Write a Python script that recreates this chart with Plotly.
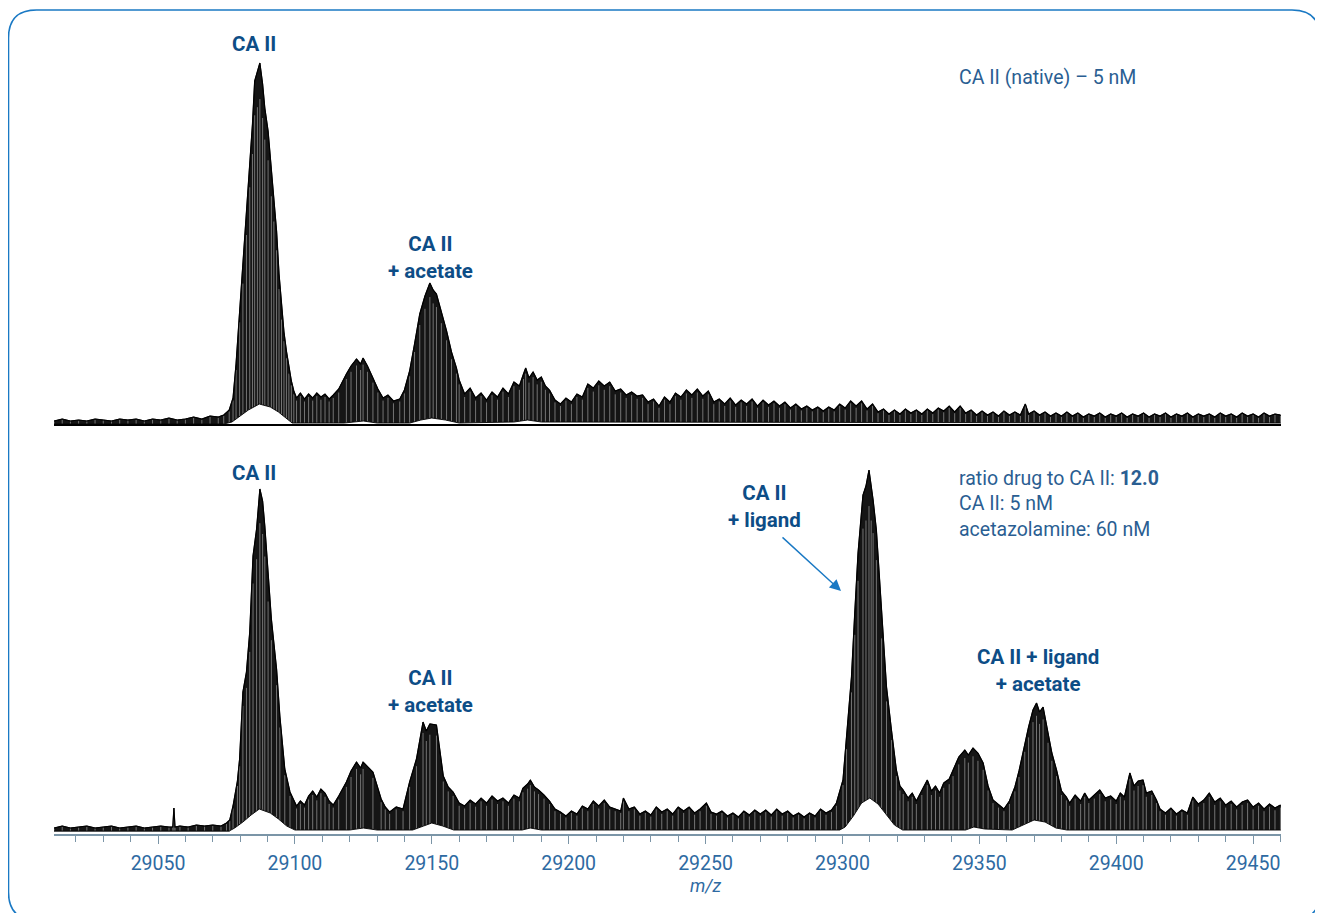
import plotly.graph_objects as go
from plotly.subplots import make_subplots

# ---------------- data: (m/z, intensity) ----------------
# upper envelope of the native CA II spectrum (top panel)
top_upper = [
    (29012, 3), (29015, 5), (29018, 3), (29021, 4), (29024, 3), (29027, 5), (29030, 4), (29033, 3),
    (29036, 5), (29039, 4), (29042, 5), (29045, 3), (29048, 5), (29051, 4), (29054, 6), (29057, 4),
    (29060, 5), (29063, 7), (29066, 5), (29069, 8), (29072, 7), (29074, 9), (29076, 14),
    (29077.4, 26), (29078.5, 60), (29079.8, 113), (29081, 156), (29082.3, 210), (29083.5, 263),
    (29084.5, 300), (29085.3, 343), (29086.3, 352), (29087.2, 361), (29088.2, 340), (29089, 316),
    (29090.2, 293), (29091.4, 253), (29092.3, 225), (29093.3, 193), (29094.2, 150), (29095.1, 116),
    (29096, 92), (29096.9, 73), (29097.8, 56), (29098.7, 43), (29099.6, 33), (29100.6, 26),
    (29102, 31), (29103.5, 25), (29105, 30), (29106.5, 26), (29108, 31), (29109.5, 27), (29111, 30),
    (29112.5, 25), (29114, 29), (29116, 35), (29118.8, 50), (29120.5, 58), (29122.5, 65),
    (29124, 60), (29124.9, 66), (29126.5, 58), (29128.5, 46), (29130.3, 35), (29132.2, 26),
    (29134, 29), (29136, 23), (29138.3, 25), (29140, 34), (29141.9, 53), (29143.7, 80),
    (29145.6, 110), (29147.5, 128), (29149.3, 141), (29150.5, 134), (29151.7, 130), (29153.5, 112),
    (29155.4, 93), (29157.2, 72), (29159, 56), (29160, 44), (29162, 30), (29164, 36), (29166, 26),
    (29168, 31), (29170, 24), (29172, 32), (29174, 27), (29176, 36), (29178, 30), (29180, 42),
    (29182, 38), (29183.5, 50), (29184.3, 56), (29185.5, 46), (29187, 52), (29188.5, 44),
    (29190, 47), (29191.5, 38), (29193, 34), (29195, 24), (29197, 20), (29199, 26), (29201, 22),
    (29203, 30), (29205, 27), (29207, 40), (29209, 36), (29211, 43), (29213, 38), (29215, 42),
    (29217, 33), (29219, 35), (29221, 29), (29223, 32), (29225, 28), (29227, 29), (29229, 22),
    (29231, 25), (29233, 18), (29235, 27), (29237, 22), (29239, 31), (29241, 27), (29243, 34),
    (29245, 29), (29247, 35), (29249, 28), (29251, 33), (29253, 22), (29255, 25), (29257, 20),
    (29259, 26), (29261, 19), (29263, 24), (29265, 20), (29267, 25), (29269, 18), (29271, 24),
    (29273, 19), (29275, 23), (29277, 18), (29279, 22), (29281, 16), (29283, 20), (29285, 15),
    (29287, 18), (29289, 14), (29291, 17), (29293, 13), (29295, 17), (29297, 14), (29299, 20),
    (29301, 16), (29303, 23), (29305, 18), (29307, 23), (29309, 15), (29311, 20), (29313, 12),
    (29315, 15), (29317, 10), (29319, 14), (29321, 10), (29323, 15), (29325, 11), (29327, 14),
    (29329, 10), (29331, 15), (29333, 11), (29335, 16), (29337, 13), (29339, 18), (29341, 12),
    (29343, 18), (29345, 11), (29347, 14), (29349, 9), (29351, 13), (29353, 9), (29355, 12),
    (29357, 8), (29359, 13), (29361, 9), (29363, 12), (29365, 9), (29366.8, 20), (29368, 10),
    (29370, 13), (29372, 9), (29374, 12), (29376, 8), (29378, 11), (29380, 8), (29382, 12),
    (29384, 8), (29386, 11), (29388, 7), (29390, 10), (29392, 8), (29394, 11), (29396, 7),
    (29398, 10), (29400, 8), (29402, 11), (29404, 7), (29406, 10), (29408, 8), (29410, 11),
    (29412, 7), (29414, 10), (29416, 8), (29418, 11), (29420, 7), (29422, 10), (29424, 8),
    (29426, 11), (29428, 7), (29430, 10), (29432, 8), (29434, 10), (29436, 7), (29438, 11),
    (29440, 8), (29442, 10), (29444, 7), (29446, 11), (29448, 8), (29450, 10), (29452, 7),
    (29454, 11), (29456, 8), (29458, 10), (29460, 9),
]
# lower envelope (white gap under the peaks), top panel
top_lower = [
    (29012, 0), (29074, 0), (29077, 2), (29080, 8), (29083, 14), (29087, 20), (29091, 17),
    (29094, 12), (29097, 5), (29099, 1), (29118, 1), (29125, 3), (29130, 1), (29142, 1),
    (29146, 4), (29150, 6), (29155, 4), (29160, 1), (29180, 2), (29185, 4), (29190, 2), (29460, 1),
]

# upper envelope of CA II + acetazolamide spectrum (bottom panel)
bot_upper = [
    (29012, 3), (29015, 5), (29018, 3), (29021, 4), (29024, 5), (29027, 3), (29030, 4), (29033, 5),
    (29036, 3), (29039, 4), (29042, 5), (29045, 3), (29048, 4), (29051, 5), (29054, 4),
    (29055.4, 4), (29055.8, 23), (29056.2, 4), (29058, 5), (29061, 4), (29064, 6), (29067, 5),
    (29070, 6), (29073, 5), (29075, 8), (29076.2, 11), (29077.4, 25), (29079, 50), (29079.8, 72),
    (29081, 139), (29082.3, 159), (29083.5, 199), (29084.7, 275), (29086, 302), (29087.2, 342),
    (29088.2, 330), (29089, 305), (29090.2, 255), (29091.4, 212), (29093.3, 162), (29094.5, 115),
    (29096.3, 62), (29098.2, 39), (29100.6, 25), (29102, 30), (29103.5, 26), (29105, 35),
    (29106.5, 40), (29108, 34), (29109.5, 42), (29111, 38), (29112.5, 30), (29114, 26),
    (29116, 35), (29118.8, 49), (29120.5, 60), (29122.5, 69), (29124, 63), (29124.9, 69),
    (29128.5, 59), (29131.5, 32), (29133, 24), (29134.6, 19), (29137, 24), (29139.5, 22),
    (29141.9, 49), (29144.4, 72), (29146.8, 109), (29148, 100), (29149.3, 107), (29151.7, 106),
    (29154.2, 55), (29156, 44), (29157.8, 39), (29160, 28), (29162, 25), (29164, 31), (29166, 27),
    (29168, 33), (29170, 28), (29172, 35), (29174, 30), (29176, 33), (29178, 28), (29180, 36),
    (29182, 33), (29183.3, 43), (29185, 47), (29186, 51), (29187.5, 44), (29189, 41), (29191, 36),
    (29193, 30), (29195, 22), (29197, 19), (29199, 15), (29201, 20), (29203, 17), (29205, 25),
    (29207, 22), (29209, 30), (29211, 25), (29213, 31), (29215, 24), (29217, 22), (29219, 20),
    (29220, 33), (29222, 22), (29224, 24), (29226, 17), (29228, 20), (29230, 16), (29232, 24),
    (29234, 19), (29236, 22), (29238, 17), (29240, 24), (29242, 20), (29244, 24), (29246, 18),
    (29248, 22), (29250.3, 28), (29252, 19), (29254, 17), (29256, 20), (29258, 15), (29260, 18),
    (29262, 14), (29264, 20), (29266, 16), (29268, 21), (29270, 17), (29272, 21), (29274, 16),
    (29276, 22), (29278, 17), (29280, 20), (29282, 15), (29284, 18), (29286, 14), (29288, 18),
    (29290, 15), (29292, 22), (29294, 18), (29296, 21), (29297.8, 28), (29300.2, 51),
    (29301.5, 91), (29303.3, 154), (29304.5, 218), (29305.7, 278), (29307.5, 336), (29308.6, 345),
    (29309.7, 361), (29310.5, 345), (29311.2, 331), (29312.4, 301), (29314.3, 214), (29316.1, 144),
    (29317.9, 101), (29319.7, 61), (29321, 45), (29322.2, 41), (29324, 33), (29325.5, 38),
    (29327, 30), (29329, 40), (29331, 51), (29332.5, 40), (29334, 45), (29335.5, 38), (29337, 48),
    (29339, 52), (29340.4, 61), (29342.5, 74), (29344.7, 81), (29346, 76), (29347.7, 83),
    (29349.5, 78), (29351.4, 68), (29353.2, 45), (29355, 31), (29357, 26), (29359, 22),
    (29361, 30), (29363, 44), (29364.5, 60), (29366.6, 88), (29368, 104), (29369.6, 121),
    (29370.9, 128), (29372, 119), (29373.3, 124), (29375.1, 98), (29376.5, 78), (29378.2, 61),
    (29380, 40), (29381.8, 34), (29383, 28), (29385, 36), (29387, 30), (29388.5, 38), (29390, 31),
    (29392, 36), (29394, 41), (29396, 33), (29398, 35), (29400, 30), (29401.5, 38), (29403, 34),
    (29405, 58), (29406.5, 45), (29408, 50), (29409.8, 51), (29411, 38), (29413, 40),
    (29414.7, 31), (29416, 22), (29418, 18), (29420, 23), (29422, 17), (29424, 21), (29426, 18),
    (29428, 34), (29430, 27), (29432, 31), (29434, 38), (29436, 29), (29438, 33), (29440, 26),
    (29442, 30), (29444, 24), (29446, 29), (29448, 31), (29450, 24), (29452, 28), (29454, 22),
    (29456, 27), (29458, 23), (29460, 26),
]
bot_lower = [
    (29012, 0), (29076, 0), (29078, 3), (29081, 9), (29084, 16), (29087, 22), (29091, 18),
    (29094, 12), (29097, 5), (29100, 1), (29120, 1), (29125, 3), (29130, 1), (29143, 1),
    (29147, 5), (29150, 8), (29154, 5), (29158, 1), (29183, 1), (29186, 3), (29190, 1),
    (29299, 1), (29301, 4), (29304, 15), (29307, 28), (29310, 33), (29313, 27), (29316, 16),
    (29319, 6), (29322, 1), (29345, 1), (29348, 4), (29352, 2), (29362, 1), (29366, 6),
    (29370, 11), (29374, 9), (29378, 3), (29382, 1), (29460, 1),
]

major_ticks = [29050, 29100, 29150, 29200, 29250, 29300, 29350, 29400, 29450]
x_range = [29012, 29460.2]

# ---------------- styling ----------------
FONT = "Roboto"
LABEL_BLUE = "#0d4d86"
TEXT_BLUE = "#2a5e92"
TICK_BLUE = "#2e6aa2"
BORDER_BLUE = "#1a79c4"
AXIS_GRAY = "#7b95a7"

OFF = 8                      # page body margin of the browser
W, H = 1323 - OFF, 913 - OFF
L = 54 - OFF                 # plot area from screen x 54 to 1281, y 40 to 834
R = W - (1281 - OFF)
T = 30 - OFF
B = H - (834 - OFF)
PW, PH = W - L - R, H - T - B


def px(x):
    """screen pixel x -> paper"""
    return (x - OFF - L) / PW


def py(y):
    """screen pixel y -> paper"""
    return (H - B - (y - OFF)) / PH


fig = make_subplots(rows=2, cols=1, shared_xaxes=True)


def add_panel(row, upper, lower):
    mz = [p[0] for p in upper]
    hi = [p[1] for p in upper]
    lo_mz = [p[0] for p in lower]
    lo = [p[1] for p in lower]
    # dark band between the envelopes
    fig.add_trace(go.Scatter(x=mz + lo_mz[::-1], y=hi + lo[::-1],
                             fill="toself", fillcolor="#151515", mode="lines",
                             line=dict(color="#000000", width=0.8),
                             hoverinfo="skip", showlegend=False), row=row, col=1)
    # grey sticks for the striped look
    sx, sy = [], []
    for m, h in zip(mz, hi):
        sx += [m, m, None]
        sy += [0, h * 0.9, None]
    fig.add_trace(go.Scatter(x=sx, y=sy, mode="lines",
                             line=dict(color="#747474", width=1),
                             hoverinfo="skip", showlegend=False), row=row, col=1)
    # white gap under the lower envelope
    fig.add_trace(go.Scatter(x=lo_mz + [lo_mz[-1], lo_mz[0]], y=lo + [0, 0],
                             fill="toself", fillcolor="#ffffff", mode="lines",
                             line=dict(color="rgba(0,0,0,0)", width=0),
                             hoverinfo="skip", showlegend=False), row=row, col=1)
    fig.add_trace(go.Scatter(x=lo_mz, y=lo, mode="lines",
                             line=dict(color="#111111", width=1),
                             hoverinfo="skip", showlegend=False), row=row, col=1)
    fig.add_trace(go.Scatter(x=mz, y=hi, mode="lines",
                             line=dict(color="#000000", width=1.2),
                             hoverinfo="skip", showlegend=False), row=row, col=1)


add_panel(1, top_upper, top_lower)
add_panel(2, bot_upper, bot_lower)

fig.update_layout(
    width=W, height=H,
    margin=dict(l=L, r=R, t=T, b=B),
    paper_bgcolor="white", plot_bgcolor="white",
    showlegend=False,
    font=dict(family=FONT, color=TEXT_BLUE),
)

fig.update_xaxes(range=x_range, showgrid=False, zeroline=False)
fig.update_layout(
    xaxis=dict(showline=True, linecolor="#000000", linewidth=2, ticks="",
               showticklabels=False),
    xaxis2=dict(showline=True, linecolor=AXIS_GRAY, linewidth=2,
                ticks="outside", ticklen=8, tickwidth=1, tickcolor=AXIS_GRAY,
                tickvals=major_ticks, ticktext=[str(t) for t in major_ticks],
                tickfont=dict(family=FONT, size=19.5, color=TICK_BLUE),
                ticklabelstandoff=3,
                minor=dict(dtick=10, tick0=29010, ticks="outside", ticklen=6,
                           tickcolor=AXIS_GRAY, tickwidth=1)),
    yaxis=dict(domain=[py(424), py(40)], range=[0, 384], visible=False),
    yaxis2=dict(domain=[0, py(440)], range=[-3, 391], visible=False),
)

annots = []


def lab(text, x, y, size=20.5, color=LABEL_BLUE, anchor="center", align="center"):
    annots.append(dict(text=text, x=px(x), y=py(y), xref="paper", yref="paper",
                       xanchor=anchor, yanchor="middle", align=align, showarrow=False,
                       font=dict(family=FONT, size=size, color=color)))


lab("<b>CA II</b>", 254, 44)
lab("<b>CA II</b><br><b>+ acetate</b>", 431, 257.5)
lab("<b>CA II</b>", 254, 473)
lab("<b>CA II</b><br><b>+ acetate</b>", 431, 691.5)
lab("<b>CA II</b><br><b>+ ligand</b>", 765, 506.5)
lab("<b>CA II + ligand</b><br><b>+ acetate</b>", 1038, 670.5)
lab("CA II (native) – 5 nM", 957, 78, size=19.5, color=TEXT_BLUE, anchor="left", align="left")
lab("ratio drug to CA II: <b>12.0</b><br>CA II: 5 nM<br>acetazolamine: 60 nM", 957, 504,
    size=19.5, color=TEXT_BLUE, anchor="left", align="left")
lab("<i>m/z</i>", 706, 885, size=18, color=TICK_BLUE)

annots.append(dict(text="", x=px(841), y=py(591), xref="paper", yref="paper",
                   ax=-60, ay=-55, showarrow=True, arrowhead=2, arrowsize=1.6,
                   arrowwidth=1.4, arrowcolor=BORDER_BLUE, standoff=0))
fig.update_layout(annotations=annots)

# rounded frame around the whole figure (screen coordinates)
x0, x1, y0, y1, r = 8.5, 1320, 10, 920, 28
path = (f"M {px(x0 + r)},{py(y0)} L {px(x1 - r)},{py(y0)} "
        f"Q {px(x1)},{py(y0)} {px(x1)},{py(y0 + r)} "
        f"L {px(x1)},{py(y1 - r)} Q {px(x1)},{py(y1)} {px(x1 - r)},{py(y1)} "
        f"L {px(x0 + r)},{py(y1)} Q {px(x0)},{py(y1)} {px(x0)},{py(y1 - r)} "
        f"L {px(x0)},{py(y0 + r)} Q {px(x0)},{py(y0)} {px(x0 + r)},{py(y0)} Z")
fig.add_shape(type="path", path=path, xref="paper", yref="paper",
              line=dict(color=BORDER_BLUE, width=1.6), layer="above")

fig.write_html("out.html")
